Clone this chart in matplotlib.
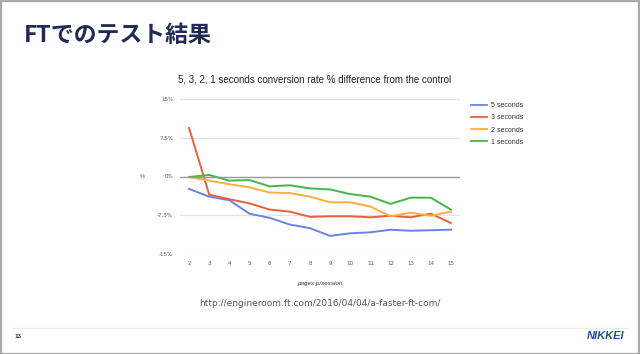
import matplotlib.pyplot as plt
from matplotlib.patches import Rectangle
from matplotlib.lines import Line2D

# データ (ページ/セッション ごとのコンバージョン率差 %)
pages = [2, 3, 4, 5, 6, 7, 8, 9, 10, 11, 12, 13, 14, 15]
sec5 = [-2.4, -3.9, -4.6, -7.2, -8.0, -9.3, -10.0, -11.5, -11.0, -10.8, -10.3, -10.5, -10.4, -10.3]
sec3 = [9.4, -3.5, -4.4, -5.2, -6.4, -6.8, -7.8, -7.7, -7.7, -7.9, -7.6, -7.9, -7.2, -9.0]
sec2 = [-0.1, -0.8, -1.5, -2.1, -3.1, -3.2, -3.9, -5.0, -5.0, -5.8, -7.7, -7.0, -7.6, -6.8]
sec1 = [-0.1, 0.3, -0.8, -0.7, -1.9, -1.7, -2.3, -2.5, -3.4, -3.9, -5.3, -4.1, -4.1, -6.4]
series = [("5 seconds", sec5, "#6a84e6"),
          ("3 seconds", sec3, "#e8603c"),
          ("2 seconds", sec2, "#fbb03b"),
          ("1 seconds", sec1, "#43b649")]
yticks = [15, 7.5, 0, -7.5, -15]
ylabels = ["15%", "7.5%", "0%", "-7.5%", "-15%"]

W, H = 640, 354
fig = plt.figure(figsize=(6.4, 3.54), dpi=100)
fig.patch.set_facecolor("white")

# スライドの枠
fig.patches.append(Rectangle((0.5 / W, 0.5 / H), 1 - 1.5 / W, 1 - 1.5 / H, transform=fig.transFigure,
                             fill=False, edgecolor="#a8a8a8", linewidth=1.6))

fig.text(24 / W, 1 - 35 / H, "FTでのテスト結果", family=["Noto Sans CJK JP", "DejaVu Sans"],
         fontsize=16.5, fontweight="bold", color="#1f2b55", va="center", ha="left")

ax = fig.add_axes([180 / W, 1 - 254 / H, 280 / W, 155 / H])
for name, vals, col in series:
    ax.plot(pages, vals, color=col, linewidth=1.4, label=name)
ax.set_xlim(1.55, 15.45)
ax.set_ylim(-15, 15)
ax.set_xticks(pages)
ax.set_yticks(yticks)
ax.set_yticklabels(ylabels)
ax.grid(axis="y", color="#e2e2e2", linewidth=0.9)
ax.axhline(0, color="#9a9a9a", linewidth=1.0)
ax.tick_params(length=0, labelsize=4, colors="#555555", pad=5)
for s in ax.spines.values():
    s.set_visible(False)
ax.set_facecolor("white")

fig.text(315 / W, 1 - 80 / H, "5, 3, 2, 1 seconds conversion rate % difference from the control",
         family="Liberation Sans", fontsize=7, color="#222222", ha="center", va="center")
fig.text(142 / W, 1 - 176 / H, "%", family="Liberation Sans", fontsize=4, color="#555555",
         ha="center", va="center")
fig.text(320 / W, 1 - 283 / H, "pages p/session", family="Liberation Sans", fontsize=4.5,
         style="italic", color="#333333", ha="center", va="center")

handles = [Line2D([], [], color=c, linewidth=1.3) for _, _, c in series]
fig.legend(handles, [n for n, _, _ in series], loc="upper left", bbox_to_anchor=(465 / W, 1 - 96 / H),
           frameon=False, prop={"family": "Liberation Sans", "size": 5}, handlelength=2.2,
           labelspacing=0.75, handletextpad=0.6, labelcolor="#333333")

fig.text(320 / W, 1 - 303 / H, "http://engineroom.ft.com/2016/04/04/a-faster-ft-com/",
         family="DejaVu Sans", fontsize=6.5, color="#555555", ha="center", va="center")

fig.lines.append(Line2D([12 / W, 628 / W], [1 - 328 / H, 1 - 328 / H], transform=fig.transFigure,
                        color="#ececec", linewidth=1.0))
fig.text(15 / W, 1 - 336 / H, "13", family="Liberation Sans", fontsize=4.5, fontweight="bold",
         color="#333333", ha="left", va="center")
fig.text(624 / W, 1 - 336 / H, "NIKKEI", family="Liberation Sans", fontsize=8, fontweight="bold",
         style="italic", color="#1f4fa8", ha="right", va="center")

fig.savefig("out.png", dpi=100, facecolor="white")
